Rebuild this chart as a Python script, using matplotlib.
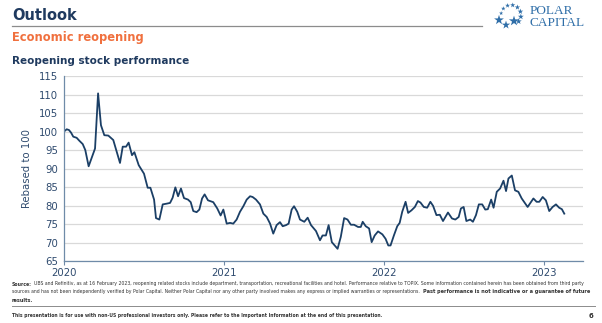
import numpy as np
import matplotlib
matplotlib.use("Agg")
import matplotlib.pyplot as plt

# Reopening basket, rebased to 100, plotted against decimal year
years = [
    2020.000, 2020.017, 2020.031, 2020.044, 2020.058, 2020.079, 2020.096,
    2020.117, 2020.133, 2020.154, 2020.194, 2020.213, 2020.231, 2020.252,
    2020.277, 2020.308, 2020.350, 2020.367, 2020.388, 2020.404, 2020.425,
    2020.440, 2020.467, 2020.500, 2020.523, 2020.540, 2020.563, 2020.575,
    2020.596, 2020.617, 2020.642, 2020.663, 2020.679, 2020.696, 2020.713,
    2020.731, 2020.750, 2020.775, 2020.792, 2020.808, 2020.829, 2020.846,
    2020.863, 2020.879, 2020.900, 2020.933, 2020.958, 2020.979, 2020.996,
    2021.017, 2021.038, 2021.058, 2021.079, 2021.100, 2021.121, 2021.142,
    2021.163, 2021.179, 2021.200, 2021.225, 2021.246, 2021.267, 2021.288,
    2021.308, 2021.329, 2021.350, 2021.367, 2021.388, 2021.404, 2021.423,
    2021.438, 2021.458, 2021.475, 2021.502, 2021.523, 2021.544, 2021.575,
    2021.600, 2021.616, 2021.637, 2021.654, 2021.674, 2021.710, 2021.730,
    2021.751, 2021.772, 2021.793, 2021.813, 2021.838, 2021.855, 2021.867,
    2021.886, 2021.907, 2021.923, 2021.942, 2021.963, 2021.990, 2022.010,
    2022.027, 2022.041, 2022.062, 2022.083, 2022.098, 2022.114, 2022.135,
    2022.151, 2022.172, 2022.193, 2022.212, 2022.228, 2022.249, 2022.270,
    2022.290, 2022.307, 2022.328, 2022.349, 2022.369, 2022.400, 2022.425,
    2022.446, 2022.467, 2022.481, 2022.498, 2022.515, 2022.539, 2022.556,
    2022.575, 2022.593, 2022.614, 2022.633, 2022.649, 2022.670, 2022.685,
    2022.705, 2022.726, 2022.747, 2022.763, 2022.778, 2022.799, 2022.819,
    2022.840, 2022.861, 2022.898, 2022.934, 2022.954, 2022.971, 2022.992,
    2023.012, 2023.033, 2023.054, 2023.075, 2023.095, 2023.112, 2023.127,
]
values = [
    100.0, 100.6, 100.4, 99.7, 98.6, 98.3, 97.5,
    96.6, 95.0, 90.6, 95.4, 110.3, 101.7, 99.0,
    98.9, 97.7, 91.5, 95.9, 95.9, 97.0, 93.6,
    94.4, 90.9, 88.6, 84.8, 84.8, 81.6, 76.6,
    76.2, 80.3, 80.5, 80.7, 82.1, 84.9, 82.5,
    84.6, 82.0, 81.6, 80.9, 78.5, 78.2, 78.9,
    81.9, 83.0, 81.4, 80.9, 79.2, 77.3, 78.9,
    75.1, 75.3, 75.1, 76.2, 78.3, 79.8, 81.6,
    82.5, 82.3, 81.6, 80.3, 77.8, 76.9, 75.1,
    72.4, 74.7, 75.5, 74.4, 74.7, 75.1, 78.9,
    79.8, 78.3, 76.2, 75.6, 76.7, 74.7, 73.1,
    70.6, 71.9, 71.9, 74.7, 70.1, 68.3, 71.5,
    76.6, 76.2, 74.8, 74.8, 74.2, 74.2, 75.6,
    74.4, 73.8, 70.1, 71.9, 73.0, 72.2, 71.0,
    69.2, 69.2, 71.9, 74.4, 75.3, 78.3, 81.0,
    78.0, 78.7, 79.6, 81.2, 80.8, 79.6, 79.4,
    81.0, 79.9, 77.4, 77.5, 75.8, 78.1, 76.5,
    76.2, 76.9, 79.2, 79.6, 75.8, 76.2, 75.6,
    77.4, 80.3, 80.3, 78.9, 79.0, 81.6, 79.4,
    83.7, 84.6, 86.7, 83.9, 87.3, 88.1, 84.1,
    83.7, 81.9, 79.6, 81.9, 81.0, 81.0, 82.3,
    81.4, 78.5, 79.6, 80.3, 79.4, 79.0, 77.8,
]

year_ticks = [2020, 2021, 2022, 2023]
y_ticks = [65, 70, 75, 80, 85, 90, 95, 100, 105, 110, 115]

navy = "#1F3A5F"
line_col = "#1B3F66"
label_col = "#2E4A6E"
orange = "#F0703E"
logo_blue = "#2F6EA8"
note_col = "#333333"

W, H = 602, 323
fig = plt.figure(figsize=(W / 100, H / 100), dpi=100)
fig.patch.set_facecolor("white")


def fx(px):
    return px / W


def fy(py):
    return 1 - py / H


def extent(txt):
    fig.canvas.draw()
    return txt.get_window_extent(renderer=fig.canvas.get_renderer())


# header
fig.text(fx(12), fy(16), "Outlook", fontsize=10.5, fontweight="bold",
         color=navy, va="center", ha="left")
fig.add_artist(plt.Line2D([fx(12), fx(482)], [fy(26), fy(26)],
                          color="#8C8C8C", lw=0.9))
fig.text(fx(12), fy(37), "Economic reopening", fontsize=8.3, fontweight="bold",
         color=orange, va="center", ha="left")
fig.text(fx(12), fy(61), "Reopening stock performance", fontsize=7.5,
         fontweight="bold", color=navy, va="center", ha="left")

# logo: ring of stars plus the firm name
logo = fig.add_axes([fx(494), fy(30), fx(36), fy(2) - fy(30)])
logo.set_xlim(0, 36)
logo.set_ylim(28, 0)
logo.axis("off")
ang = np.linspace(np.radians(170), np.radians(-40), 8)
cx, cy, r = 17, 13, 10
logo.scatter(cx + r * np.cos(ang), cy - r * np.sin(ang),
             s=np.linspace(10, 22, 8), marker="*", color=logo_blue, lw=0)
logo.scatter([5, 12, 20], [18, 23, 19], s=[55, 40, 60], marker="*",
             color=logo_blue, lw=0)
fig.text(fx(530), fy(10.5), "POLAR", fontsize=9.5, family="Liberation Serif",
         color=logo_blue, va="center", ha="left")
fig.text(fx(530), fy(22.5), "CAPITAL", fontsize=9.5, family="Liberation Serif",
         color=logo_blue, va="center", ha="left")

# chart
ax = fig.add_axes([fx(64), fy(261), fx(583) - fx(64), fy(76) - fy(261)])
ax.plot(years, values, color=line_col, lw=1.3, solid_joinstyle="round")
ax.set_xlim(2020, 2023.244)
ax.set_ylim(65, 115)
ax.set_yticks(y_ticks)
ax.set_xticks(year_ticks)
ax.set_xticklabels([str(y) for y in year_ticks])
ax.grid(axis="y", color="#D9D9D9", lw=0.9)
ax.set_axisbelow(True)
for s in ["top", "right"]:
    ax.spines[s].set_visible(False)
for s in ["left", "bottom"]:
    ax.spines[s].set_color("#6F8BA8")
    ax.spines[s].set_linewidth(0.9)
ax.tick_params(axis="y", length=0, labelsize=7.3, labelcolor=label_col, pad=4)
ax.tick_params(axis="x", length=3, color="#6F8BA8", labelsize=7.3,
               labelcolor=label_col, pad=2)
ax.set_ylabel("Rebased to 100", fontsize=7.3, color=label_col, labelpad=5)

# source notes
small = 3.3
src = fig.text(fx(12), fy(284), "Source:", fontsize=small, fontweight="bold",
               color=note_col, va="center", ha="left")
fig.text(extent(src).x1 / W + fx(2), fy(284),
         "UBS and Refinitiv, as at 16 February 2023, reopening related stocks include "
         "department, transportation, recreational facilities and hotel. Performance "
         "relative to TOPIX. Some information contained herein has been obtained from "
         "third party",
         fontsize=small, color=note_col, va="center", ha="left")
t2 = fig.text(fx(12), fy(292),
              "sources and has not been independently verified by Polar Capital. Neither "
              "Polar Capital nor any other party involved makes any express or implied "
              "warranties or representations.",
              fontsize=small, color=note_col, va="center", ha="left")
start = extent(t2).x1 + 3
bold = fig.text(start / W, fy(292),
                "Past performance is not indicative or a guarantee of future",
                fontsize=4.0, fontweight="bold", color=note_col,
                va="center", ha="left")
# shrink the bold sentence until it ends before the right margin
bw = extent(bold).width
bold_size = 4.0 * min(1.0, (588 - start) / bw)
bold.set_fontsize(bold_size)
fig.text(fx(12), fy(300), "results.", fontsize=bold_size, fontweight="bold",
         color=note_col, va="center", ha="left")
fig.add_artist(plt.Line2D([fx(12), fx(595)], [fy(306), fy(306)],
                          color="#8C8C8C", lw=0.7))
fig.text(fx(12), fy(316),
         "This presentation is for use with non-US professional investors only. "
         "Please refer to the Important Information at the end of this presentation.",
         fontsize=3.25, fontweight="bold", color=note_col, va="center", ha="left")
fig.text(fx(593), fy(316), "6", fontsize=5, fontweight="bold",
         color=note_col, va="center", ha="right")

fig.savefig("out.png", dpi=100)
